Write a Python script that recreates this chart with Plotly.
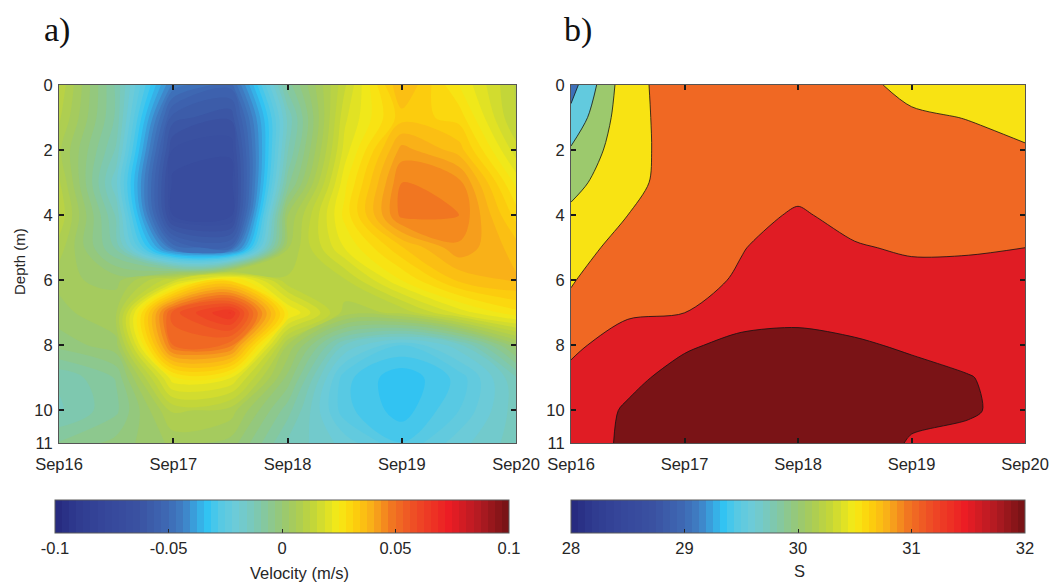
import math
import plotly.graph_objects as go

W, H = 1052, 586

# ---------------------------------------------------------------- data
times = ["2014-09-16 00:00", "2014-09-16 12:00", "2014-09-17 00:00",
         "2014-09-17 12:00", "2014-09-18 00:00", "2014-09-18 12:00",
         "2014-09-19 00:00", "2014-09-19 12:00", "2014-09-20 00:00"]
depths = [0, 1, 2, 3, 4, 5, 6, 7, 8, 9, 10, 11]

# along-channel velocity (m/s), one row per depth, one column per time
velocity = [
    [0.012, -0.010, -0.045, -0.052, -0.008, 0.015, 0.038, 0.025, 0.012],
    [0.010, -0.010, -0.058, -0.062, -0.015, 0.018, 0.033, 0.030, 0.012],
    [0.007, -0.013, -0.066, -0.068, -0.013, 0.020, 0.042, 0.036, 0.017],
    [0.010, -0.018, -0.070, -0.071, -0.008, 0.024, 0.047, 0.045, 0.024],
    [0.012, -0.013, -0.069, -0.070, 0.003, 0.026, 0.048, 0.047, 0.030],
    [0.008, -0.010, -0.048, -0.052, 0.006, 0.022, 0.034, 0.043, 0.036],
    [0.004, 0.002, 0.015, 0.030, 0.010, 0.012, 0.025, 0.035, 0.038],
    [0.002, 0.006, 0.055, 0.066, 0.026, 0.008, 0.010, 0.020, 0.027],
    [-0.002, 0.002, 0.050, 0.048, 0.006, -0.016, -0.025, -0.017, 0.002],
    [-0.012, -0.006, 0.024, 0.022, -0.001, -0.027, -0.034, -0.027, -0.013],
    [-0.013, -0.007, 0.010, 0.008, -0.008, -0.027, -0.033, -0.025, -0.014],
    [-0.006, -0.002, 0.004, 0.002, -0.013, -0.020, -0.028, -0.020, -0.014],
]

# salinity, same grid
salinity = [
    [29.30, 30.85, 31.25, 31.30, 31.20, 31.10, 30.90, 30.85, 30.80],
    [29.65, 30.85, 31.22, 31.30, 31.25, 31.20, 31.05, 30.99, 30.93],
    [30.05, 30.84, 31.22, 31.32, 31.30, 31.28, 31.15, 31.10, 31.02],
    [30.35, 30.85, 31.25, 31.35, 31.42, 31.35, 31.25, 31.20, 31.20],
    [30.60, 31.00, 31.28, 31.42, 31.53, 31.42, 31.35, 31.35, 31.38],
    [30.78, 31.20, 31.30, 31.48, 31.68, 31.52, 31.47, 31.47, 31.50],
    [30.97, 31.30, 31.35, 31.55, 31.78, 31.62, 31.58, 31.60, 31.60],
    [31.10, 31.45, 31.50, 31.85, 31.90, 31.85, 31.75, 31.72, 31.70],
    [31.42, 31.70, 31.95, 32.10, 32.12, 32.05, 31.95, 31.85, 31.80],
    [31.60, 31.90, 32.15, 32.25, 32.25, 32.20, 32.12, 32.02, 31.85],
    [31.75, 32.05, 32.20, 32.30, 32.30, 32.25, 32.08, 32.04, 31.88],
    [31.85, 32.05, 32.20, 32.30, 32.30, 32.20, 31.97, 31.90, 31.85],
]

date_ticks = ["2014-09-16", "2014-09-17", "2014-09-18", "2014-09-19", "2014-09-20"]
date_labels = ["Sep16", "Sep17", "Sep18", "Sep19", "Sep20"]
depth_ticks = [0, 2, 4, 6, 8, 10, 11]
vel_ticks = [-0.1, -0.05, 0, 0.05, 0.1]
vel_labels = ["-0.1", "-0.05", "0", "0.05", "0.1"]
sal_ticks = [28, 29, 30, 31, 32]
sal_labels = ["28", "29", "30", "31", "32"]

VEL_RANGE = (-0.1, 0.1)
SAL_RANGE = (28.0, 32.0)
SAL_LEVELS = (29.0, 32.0, 0.5)
VEL_LEVELS = (-0.1, 0.1, 0.2 / 64)

# ---------------------------------------------------------------- colours
CMAP_ANCHORS = [
    (0.000, "#272b80"), (0.040, "#2f3a8f"), (0.100, "#35469a"),
    (0.180, "#3a52a2"), (0.240, "#3e68b3"), (0.280, "#3f80c5"),
    (0.310, "#38a8e2"), (0.335, "#32c5f3"), (0.360, "#55c9e5"),
    (0.400, "#6ecbd7"), (0.440, "#7cc8b4"), (0.500, "#98c875"),
    (0.530, "#a8cc58"), (0.570, "#c2d53a"), (0.625, "#f6ea16"),
    (0.660, "#fdd20c"), (0.700, "#f9b019"), (0.750, "#f07122"),
    (0.800, "#ee4a25"), (0.875, "#ec1c24"), (0.940, "#b31b22"),
    (1.000, "#7a1316"),
]


def _rgb(h):
    h = h.lstrip("#")
    return tuple(int(h[i:i + 2], 16) for i in (0, 2, 4))


def cmap_color(f):
    f = min(max(f, 0.0), 1.0)
    for (f0, c0), (f1, c1) in zip(CMAP_ANCHORS[:-1], CMAP_ANCHORS[1:]):
        if f <= f1:
            t = 0.0 if f1 == f0 else (f - f0) / (f1 - f0)
            a, b = _rgb(c0), _rgb(c1)
            return "rgb(%d,%d,%d)" % tuple(round(a[i] + t * (b[i] - a[i])) for i in range(3))
    return "rgb(%d,%d,%d)" % _rgb(CMAP_ANCHORS[-1][1])


TABLE = [cmap_color(i / 63) for i in range(64)]


def lookup(v, vmin, vmax):
    idx = int(math.floor((v - vmin) / (vmax - vmin) * len(TABLE) + 1e-9))
    return TABLE[min(max(idx, 0), len(TABLE) - 1)]


def stepped_scale():
    n = len(TABLE)
    out = []
    for i, c in enumerate(TABLE):
        out.append([i / n, c])
        out.append([(i + 1) / n, c])
    return out


def band_scale(levels, vrange):
    # each filled band takes the colour of its lower contour level
    start, end, size = levels
    nc = int(math.floor((end + size / 1e6 - start) / size)) + 1
    return [[m / nc, lookup(start + (m - 1) * size, *vrange)] for m in range(nc + 1)]


# ---------------------------------------------------------------- figure
fig = go.Figure()

fig.add_trace(go.Contour(
    x=times, y=depths, z=velocity, xaxis="x", yaxis="y",
    autocontour=False,
    contours=dict(start=VEL_LEVELS[0], end=VEL_LEVELS[1], size=VEL_LEVELS[2],
                  coloring="fill", showlines=False),
    colorscale=band_scale(VEL_LEVELS, VEL_RANGE), showscale=False,
    line=dict(width=0, smoothing=1.0), hoverinfo="skip",
))

fig.add_trace(go.Contour(
    x=times, y=depths, z=salinity, xaxis="x2", yaxis="y2",
    autocontour=False,
    contours=dict(start=SAL_LEVELS[0], end=SAL_LEVELS[1], size=SAL_LEVELS[2],
                  coloring="fill", showlines=True),
    colorscale=band_scale(SAL_LEVELS, SAL_RANGE), showscale=False,
    line=dict(width=0.8, color="#111111", smoothing=0.85), hoverinfo="skip",
))

TICK_FONT = dict(family="Liberation Sans, Arial, sans-serif", size=16.5, color="#262626")


def colorbar_trace(xa, ya, vrange, tickvals, ticktext, x0, x1):
    return go.Scatter(
        x=[None], y=[None], mode="markers", xaxis=xa, yaxis=ya,
        showlegend=False, hoverinfo="skip",
        marker=dict(
            color=[vrange[0]], colorscale=stepped_scale(),
            cmin=vrange[0], cmax=vrange[1], showscale=True,
            colorbar=dict(
                orientation="h", x=(x0 + x1) / 2 / W, xanchor="center",
                y=1 - 500 / H, yanchor="top",
                lenmode="pixels", len=x1 - x0,
                thicknessmode="pixels", thickness=33,
                xpad=0, ypad=0,
                outlinewidth=1, outlinecolor="#5a5a5a",
                ticks="inside", ticklen=4, tickwidth=1, tickcolor="#262626",
                tickvals=tickvals, ticktext=ticktext, tickfont=TICK_FONT,
            ),
        ),
    )


fig.add_trace(colorbar_trace("x", "y", VEL_RANGE, vel_ticks, vel_labels, 55, 509))
fig.add_trace(colorbar_trace("x2", "y2", SAL_RANGE, sal_ticks, sal_labels, 571, 1025))

axis_style = dict(
    showline=True, linecolor="#555555", linewidth=1, mirror="ticks",
    ticks="inside", ticklen=5, tickwidth=2, tickcolor="#1a1a1a",
    showgrid=False, zeroline=False, tickfont=TICK_FONT, automargin=False,
    layer="above traces",
)
ydom = [1 - 443 / H, 1 - 85 / H]

fig.update_layout(
    width=W, height=H,
    margin=dict(l=0, r=0, t=0, b=0, autoexpand=False),
    paper_bgcolor="white", plot_bgcolor="white", showlegend=False,
    xaxis=dict(domain=[59 / W, 516 / W], type="date",
               range=[date_ticks[0], date_ticks[-1]], ticklabelstandoff=6,
               tickvals=date_ticks, ticktext=date_labels, anchor="y", **axis_style),
    yaxis=dict(domain=ydom, range=[11, 0], tickvals=depth_ticks, anchor="x",
               ticklabelstandoff=2, **axis_style),
    xaxis2=dict(domain=[571 / W, 1025 / W], type="date",
                range=[date_ticks[0], date_ticks[-1]], ticklabelstandoff=6,
                tickvals=date_ticks, ticktext=date_labels, anchor="y2", **axis_style),
    yaxis2=dict(domain=ydom, range=[11, 0], tickvals=depth_ticks, anchor="x2",
                ticklabelstandoff=2, **axis_style),
)

LABEL_FONT = dict(family="Liberation Sans, Arial, sans-serif", size=15, color="#262626")
PANEL_FONT = dict(family="Liberation Serif, Times New Roman, serif", size=34, color="#111111")


def px_annot(text, x, y, font, **kw):
    return dict(text=text, x=x / W, y=1 - y / H, xref="paper", yref="paper",
                showarrow=False, xanchor="center", yanchor="middle", font=font, **kw)


fig.update_layout(annotations=[
    px_annot("a)", 57, 30, PANEL_FONT),
    px_annot("b)", 578, 30, PANEL_FONT),
    px_annot("Depth (m)", 19, 261, LABEL_FONT, textangle=-90),
    px_annot("Velocity (m/s)", 299, 573, TICK_FONT),
    px_annot("S", 799, 571, TICK_FONT),
])

fig.write_html("out.html")
